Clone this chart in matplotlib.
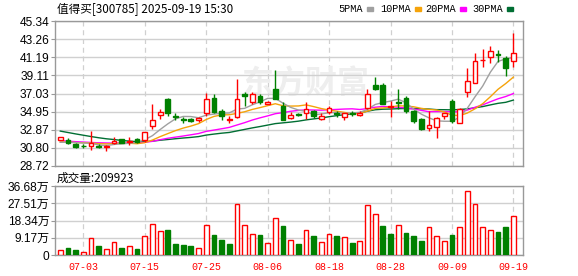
import matplotlib
matplotlib.use("Agg")
import matplotlib.pyplot as plt
import numpy as np
import pandas as pd

# trading days 2025-06-30 .. 2025-09-19
dates = ["06-30", "07-01", "07-02", "07-03", "07-04", "07-07", "07-08", "07-09", "07-10", "07-11",
         "07-14", "07-15", "07-16", "07-17", "07-18", "07-21", "07-22", "07-23", "07-24", "07-25",
         "07-28", "07-29", "07-30", "07-31", "08-01", "08-04", "08-05", "08-06", "08-07", "08-08",
         "08-11", "08-12", "08-13", "08-14", "08-15", "08-18", "08-19", "08-20", "08-21", "08-22",
         "08-25", "08-26", "08-27", "08-28", "08-29", "09-01", "09-02", "09-03", "09-04", "09-05",
         "09-08", "09-09", "09-10", "09-11", "09-12", "09-15", "09-16", "09-17", "09-18", "09-19"]

opens = [31.75, 31.75, 31.25, 31.02, 31.05, 31.05, 30.85, 31.40, 31.80, 31.45,
         31.80, 31.70, 33.25, 34.60, 36.40, 34.45, 34.05, 34.05, 33.95, 34.75,
         36.50, 35.00, 34.00, 34.35, 37.00, 36.00, 36.80, 35.85, 37.50, 35.60,
         34.25, 34.65, 34.80, 35.00, 34.05, 34.90, 34.85, 34.35, 34.85, 34.60,
         35.35, 37.95, 38.05, 35.45, 36.02, 36.55, 35.00, 34.15, 33.05, 33.15,
         34.40, 36.15, 33.70, 37.20, 38.25, 40.85, 41.20, 41.55, 41.05, 40.70]
highs = [32.10, 31.90, 31.30, 31.20, 32.70, 31.25, 31.10, 32.10, 31.85, 32.00,
         31.95, 32.65, 35.80, 35.20, 36.50, 34.80, 34.30, 34.25, 34.30, 37.10,
         37.00, 35.20, 34.50, 38.70, 37.20, 37.20, 37.00, 36.15, 39.75, 36.00,
         34.90, 34.75, 36.05, 35.10, 34.80, 35.60, 35.00, 34.85, 35.00, 35.00,
         37.50, 38.90, 38.20, 36.15, 37.55, 36.70, 35.10, 34.20, 35.00, 34.35,
         34.80, 36.45, 35.40, 40.00, 41.65, 42.10, 42.45, 42.05, 41.35, 44.00]
lows = [31.70, 31.20, 30.75, 30.80, 30.50, 30.75, 30.40, 31.25, 31.35, 31.10,
        31.30, 31.50, 32.95, 34.15, 34.40, 34.00, 33.70, 33.75, 33.80, 34.45,
        34.80, 34.00, 33.60, 34.20, 35.60, 35.80, 35.80, 35.80, 36.35, 33.95,
        34.05, 34.50, 34.15, 34.20, 33.95, 34.70, 34.30, 33.95, 34.40, 34.50,
        35.30, 37.40, 35.80, 34.35, 35.20, 34.85, 33.60, 32.90, 32.75, 31.95,
        34.10, 33.70, 33.60, 36.65, 38.20, 40.10, 40.50, 40.60, 39.00, 40.10]
closes = [32.00, 31.38, 30.95, 31.00, 31.35, 30.95, 31.05, 31.60, 31.40, 31.60,
          31.45, 32.60, 33.95, 34.90, 34.85, 34.35, 33.95, 33.90, 34.20, 36.35,
          34.95, 34.40, 34.08, 36.45, 36.75, 37.00, 36.05, 36.10, 36.45, 34.00,
          34.60, 34.55, 35.30, 34.45, 34.50, 35.35, 34.70, 34.75, 34.70, 34.85,
          37.00, 37.55, 35.85, 35.55, 35.95, 35.00, 33.90, 32.95, 33.40, 34.25,
          34.75, 33.90, 35.30, 38.50, 40.80, 40.90, 41.85, 41.50, 39.95, 41.65]
# volume, unit: 万
volumes = [2.8, 3.6, 2.5, 1.8, 9.3, 4.6, 3.4, 7.1, 3.6, 5.0,
           3.0, 10.3, 16.7, 12.5, 13.2, 5.7, 5.2, 4.6, 3.9, 15.8,
           10.5, 7.8, 5.7, 26.9, 15.7, 10.9, 10.5, 6.2, 19.9, 15.3,
           8.2, 5.7, 13.5, 10.0, 6.8, 11.0, 10.0, 9.8, 6.2, 7.7,
           26.5, 21.7, 15.3, 11.0, 15.8, 11.6, 10.0, 7.3, 15.1, 10.3,
           7.7, 10.5, 15.1, 33.8, 27.0, 15.1, 13.2, 12.1, 14.8, 20.9923]
# closes of the 29 sessions before 06-30 (estimated, only used for the moving averages)
prev_closes = [36.2, 35.8, 35.5, 35.9, 35.1, 34.6, 34.2, 34.5, 33.9, 33.3,
               32.6, 32.1, 31.9, 32.3, 31.7, 31.5, 31.8, 31.4, 31.2, 31.5,
               31.3, 31.6, 31.2, 31.5, 31.8, 31.4, 31.1, 31.3, 31.4]

price_ticks = [28.72, 30.80, 32.87, 34.95, 37.03, 39.11, 41.19, 43.26, 45.34]
vol_ticks = [0, 9.17, 18.34, 27.51, 36.68]
vol_labels = ["0", "9.17万", "18.34万", "27.51万", "36.68万"]
label_idx = [3, 11, 19, 27, 35, 43, 51, 59]

RED = "#ff0000"
GREEN = "#008000"
GRID = "#d0d0d0"
BORDER = "#999999"
ma_colors = {5: "#a0a0a0", 10: "#f5a30a", 20: "#ff00ff", 30: "#006e33"}
TICKFONT = ["Liberation Sans", "Noto Sans CJK SC"]
MONO = ["Liberation Mono", "DejaVu Sans Mono"]
CJK = ["Noto Sans CJK SC", "DejaVu Sans"]

x = np.arange(len(closes))
o = np.array(opens)
c = np.array(closes)
h = np.array(highs)
l = np.array(lows)
up = c >= o

all_close = pd.Series(prev_closes + closes)
mas = {n: all_close.rolling(n).mean().to_numpy()[-len(closes):] for n in (5, 10, 20, 30)}

# volume colored by close vs previous close
vol_up = np.concatenate([[up[0]], c[1:] >= c[:-1]])

fig = plt.figure(figsize=(5.78, 2.76), dpi=100)
W, H = 578, 276
ax = fig.add_axes([55 / W, (H - 166) / H, 468 / W, 145 / H])
axv = fig.add_axes([55 / W, (H - 255) / H, 468 / W, 69 / H])

xlim = (-0.69, 60.25)

for a in (ax, axv):
    a.set_xlim(*xlim)
    for s in a.spines.values():
        s.set_color(BORDER)
        s.set_linewidth(1)
    a.tick_params(axis="y", length=3, color=BORDER, pad=1, labelsize=8.6)
    a.tick_params(axis="x", length=0)
    for i in label_idx:
        a.axvline(i, color=GRID, lw=0.9, ls=(0, (4, 3)), zorder=0)
    a.set_axisbelow(True)

# price panel
ax.set_ylim(price_ticks[0], price_ticks[-1])
ax.set_yticks(price_ticks)
ax.set_yticklabels([f"{t:.2f}" for t in price_ticks], family=TICKFONT)
ax.grid(axis="y", color=GRID, lw=1)
ax.set_xticks([])

# faint watermark
ax.text(0.535, 0.56, "东方财富", transform=ax.transAxes, fontsize=23, color="#eeeeee",
        family=CJK, weight="bold", style="italic", ha="center", va="center", zorder=0.5)

for n in (30, 20, 10, 5):
    ax.plot(x, mas[n], color=ma_colors[n], lw=1, zorder=2)

w = 0.62
ax.vlines(x, l, h, colors=np.where(up, RED, GREEN), lw=1, zorder=3)
body_low = np.minimum(o, c)
body_h = np.maximum(np.abs(c - o), 0.02)
ax.bar(x[up], body_h[up], w, bottom=body_low[up], facecolor="white", edgecolor=RED, lw=1, zorder=4)
ax.bar(x[~up], body_h[~up], w, bottom=body_low[~up], facecolor=GREEN, edgecolor=GREEN, lw=1, zorder=4)

# volume panel
axv.set_ylim(0, vol_ticks[-1])
axv.set_yticks(vol_ticks)
axv.set_yticklabels(vol_labels, family=TICKFONT)
axv.grid(axis="y", color=GRID, lw=1)
v = np.array(volumes)
axv.bar(x[vol_up], v[vol_up], w, facecolor="white", edgecolor=RED, lw=1, zorder=3)
axv.bar(x[~vol_up], v[~vol_up], w, facecolor=GREEN, edgecolor=GREEN, lw=1, zorder=3)
axv.set_xticks(label_idx)
axv.set_xticklabels([dates[i] for i in label_idx], family=MONO, fontsize=7.2, color=RED)
axv.tick_params(axis="x", pad=5)

# titles and legend
fig.text(57 / W, 1 - 10 / H, "值得买[300785] 2025-09-19 15:30", family=CJK, fontsize=8.4,
         color="black", va="center", ha="left")
fig.text(57 / W, 1 - 178 / H, "成交量:%d" % round(volumes[-1] * 10000), family=CJK, fontsize=8.4,
         color="black", va="center", ha="left")
legend_x = {5: 338, 10: 380, 20: 425, 30: 472}
for n, lx in legend_x.items():
    fig.text(lx / W, 1 - 9 / H, f"{n}PMA", family=MONO, fontsize=7.4, color="black",
             va="center", ha="left")
    sq_x = lx + 6.2 * len(f"{n}PMA") + 4
    fig.patches.append(plt.Rectangle((sq_x / W, 1 - 11 / H), 6 / W, 4 / H,
                                     transform=fig.transFigure, color=ma_colors[n]))

fig.savefig("out.png", dpi=100)
